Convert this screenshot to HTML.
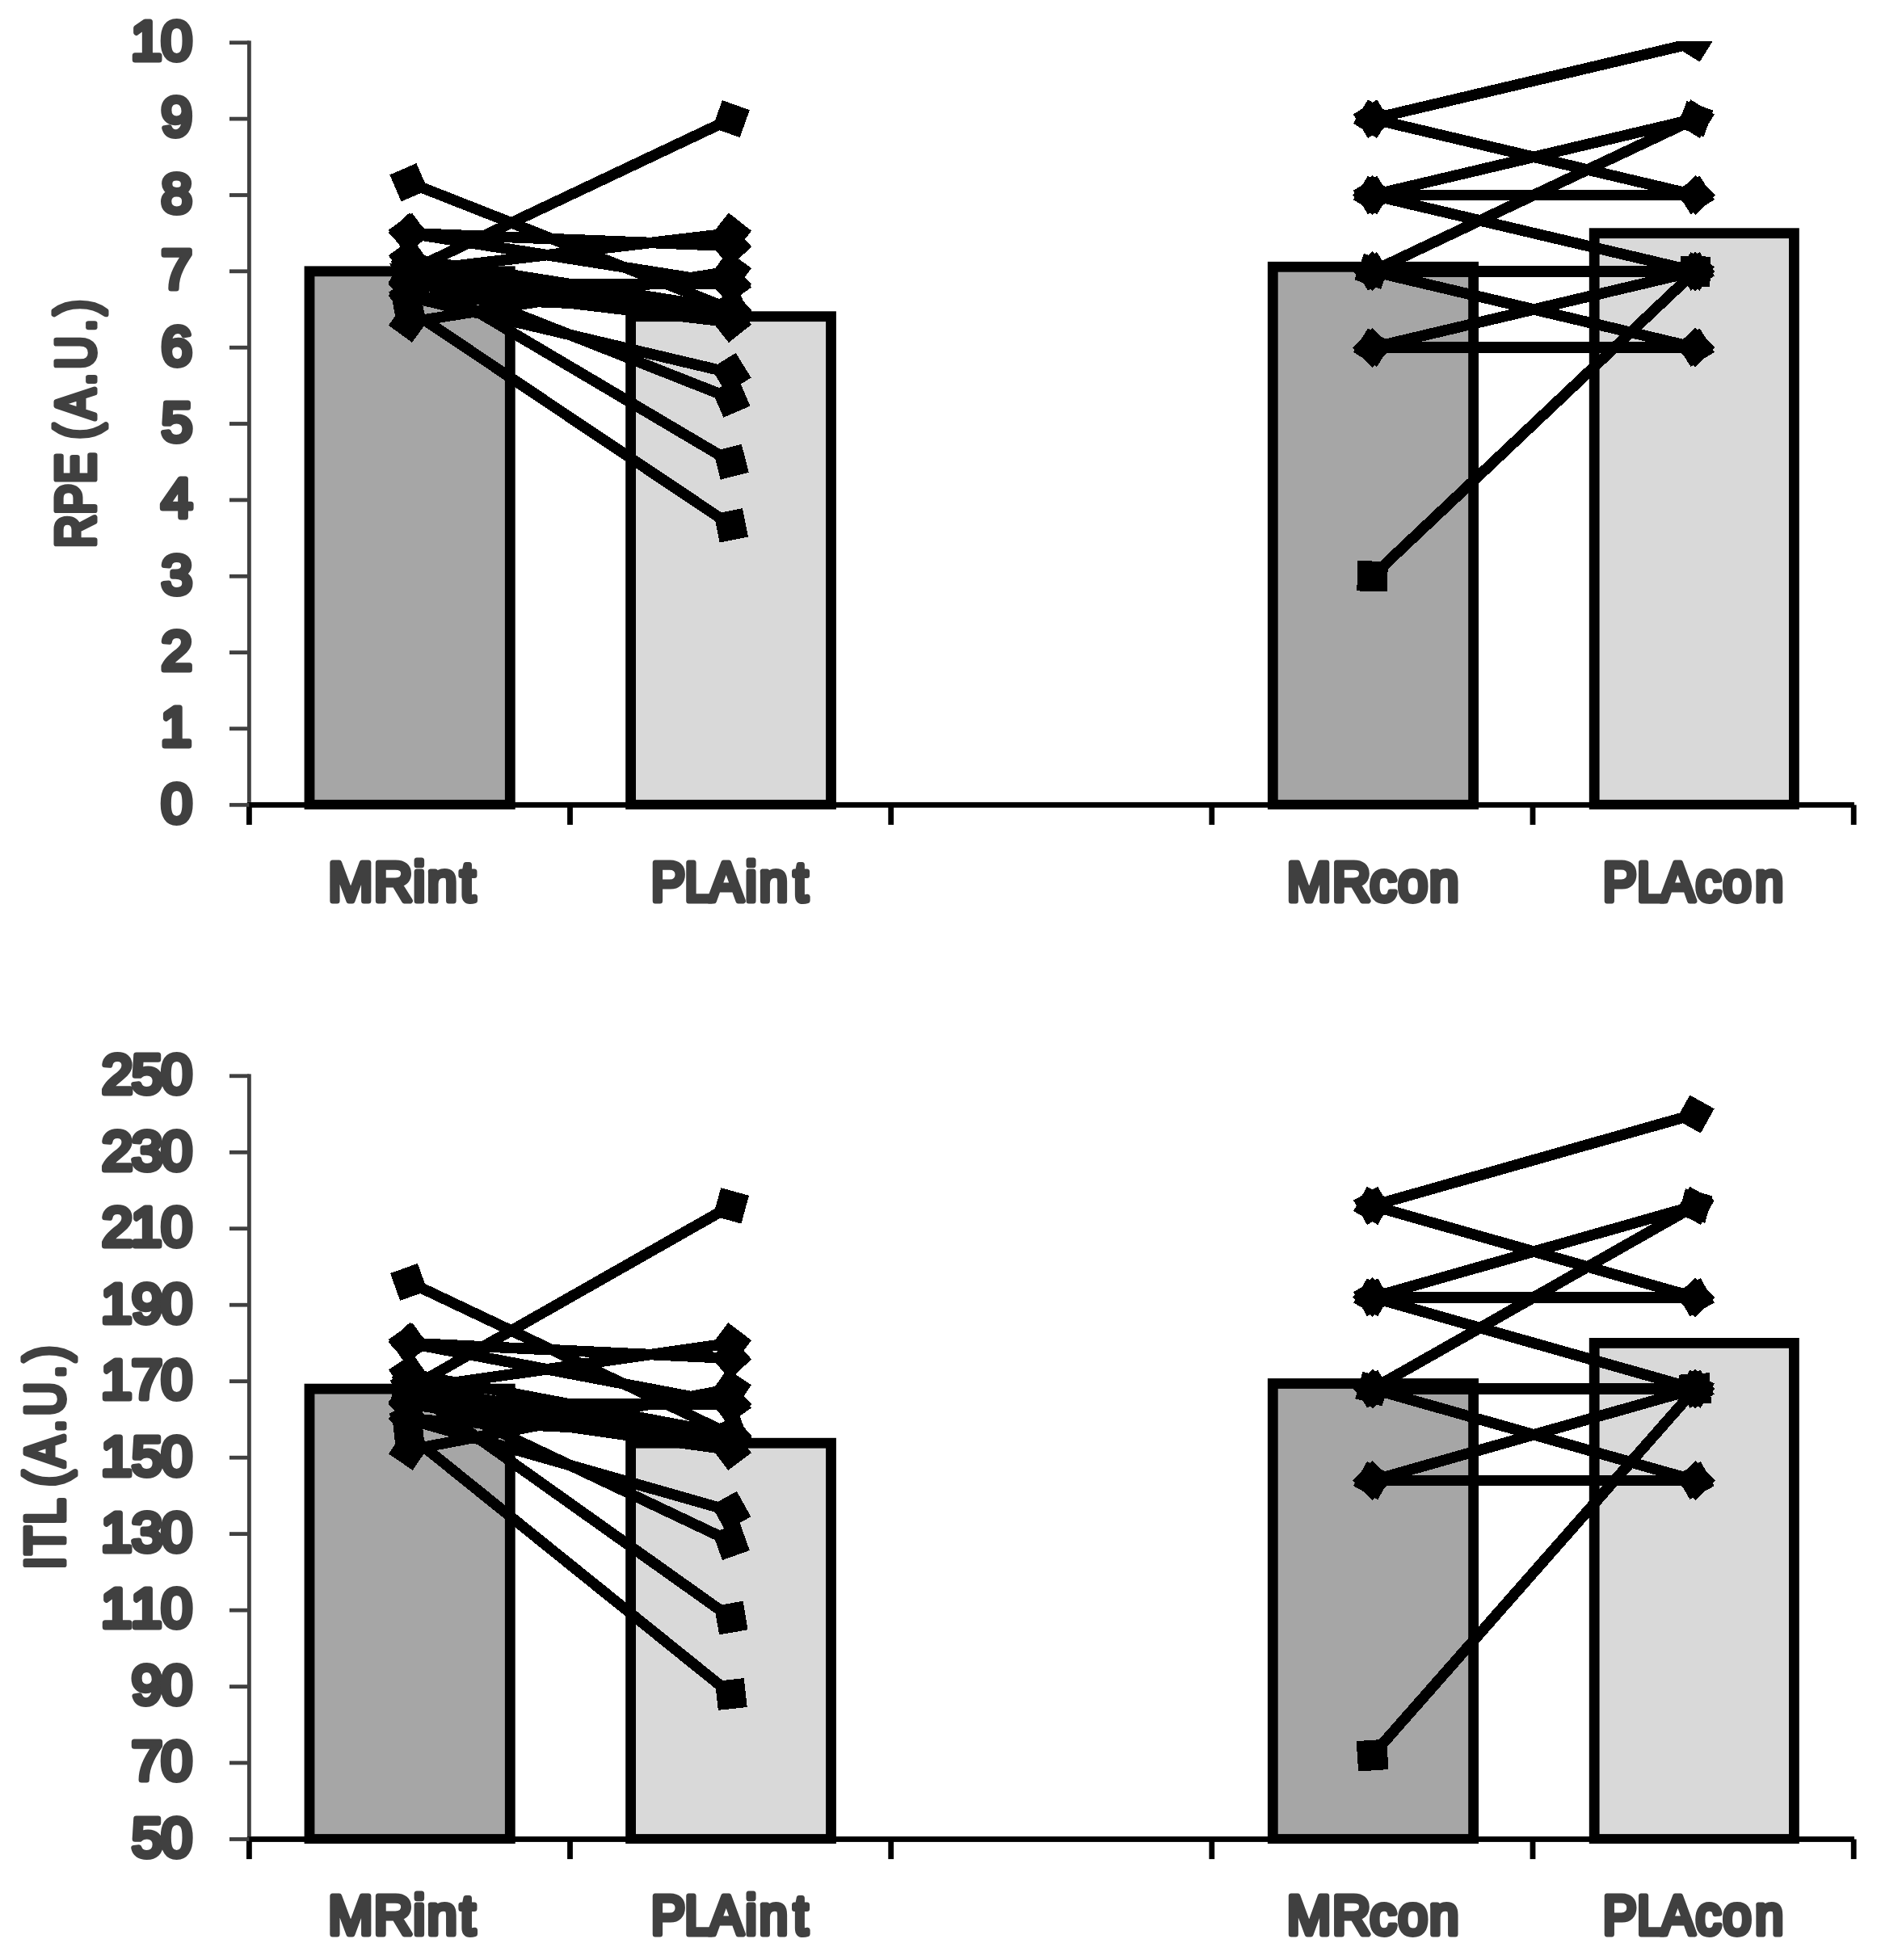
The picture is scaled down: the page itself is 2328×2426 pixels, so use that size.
<!DOCTYPE html>
<html lang="en"><head><meta charset="utf-8"><title>RPE and ITL</title>
<style>html,body{margin:0;padding:0;background:#fff}svg{display:block}</style></head>
<body>
<svg width="2328" height="2426" viewBox="0 0 2328 2426">
<defs><clipPath id="c1"><rect x="0" y="50.9" width="2328" height="1100"/></clipPath></defs>
<rect width="2328" height="2426" fill="#fff"/>
<rect x="376.6" y="329.4" width="261.1" height="672.4" fill="#000"/>
<rect x="389.4" y="342.2" width="235.5" height="647.7" fill="#A6A6A6"/>
<rect x="774.2" y="385.3" width="260.7" height="616.5" fill="#000"/>
<rect x="787.0" y="398.1" width="235.1" height="591.8" fill="#D9D9D9"/>
<rect x="1568.9" y="323.9" width="261.1" height="677.9" fill="#000"/>
<rect x="1581.7" y="336.7" width="235.5" height="653.2" fill="#A6A6A6"/>
<rect x="1966.8" y="282.3" width="260.0" height="719.5" fill="#000"/>
<rect x="1979.6" y="295.1" width="234.4" height="694.8" fill="#D9D9D9"/>
<rect x="305.8" y="992.9" width="1989.1" height="6.8" fill="#000"/>
<rect x="305.0" y="996.3" width="6.8" height="24.6" fill="#000"/>
<rect x="702.1" y="996.3" width="6.8" height="24.6" fill="#000"/>
<rect x="1099.3" y="996.3" width="6.8" height="24.6" fill="#000"/>
<rect x="1496.4" y="996.3" width="6.8" height="24.6" fill="#000"/>
<rect x="1893.6" y="996.3" width="6.8" height="24.6" fill="#000"/>
<rect x="2290.8" y="996.3" width="6.8" height="24.6" fill="#000"/>
<rect x="306.0" y="50.4" width="4.8" height="942.5" fill="#404040"/>
<rect x="284" y="993.9" width="24.4" height="4.8" fill="#404040"/>
<rect x="284" y="899.5" width="24.4" height="4.8" fill="#404040"/>
<rect x="284" y="805.2" width="24.4" height="4.8" fill="#404040"/>
<rect x="284" y="710.9" width="24.4" height="4.8" fill="#404040"/>
<rect x="284" y="616.5" width="24.4" height="4.8" fill="#404040"/>
<rect x="284" y="522.1" width="24.4" height="4.8" fill="#404040"/>
<rect x="284" y="427.8" width="24.4" height="4.8" fill="#404040"/>
<rect x="284" y="333.4" width="24.4" height="4.8" fill="#404040"/>
<rect x="284" y="239.1" width="24.4" height="4.8" fill="#404040"/>
<rect x="284" y="144.7" width="24.4" height="4.8" fill="#404040"/>
<rect x="284" y="50.4" width="24.4" height="4.8" fill="#404040"/>
<g clip-path="url(#c1)" shape-rendering="crispEdges">
<path d="M506.0 225.8L904.8 383.0" stroke="#000" stroke-width="13.5" fill="none"/>
<polygon points="529.7,235.1 496.6,249.5 482.3,216.4 515.4,202.1" fill="#000"/>
<polygon points="928.5,392.4 895.4,406.7 881.1,373.7 914.2,359.3" fill="#000"/>
<path d="M506.0 335.8L904.8 147.1" stroke="#000" stroke-width="13.5" fill="none"/>
<polygon points="529.0,324.9 516.9,358.9 483.0,346.8 495.1,312.8" fill="#000"/>
<polygon points="927.8,136.2 915.7,170.2 881.8,158.1 893.9,124.1" fill="#000"/>
<path d="M506.0 288.7L904.8 304.4" stroke="#000" stroke-width="13.5" fill="none"/>
<polygon points="531.5,289.7 505.0,314.2 480.5,287.7 507.0,263.2" fill="#000"/>
<polygon points="930.3,305.4 903.8,329.9 879.3,303.4 905.8,278.9" fill="#000"/>
<path d="M506.0 335.8L904.8 288.7" stroke="#000" stroke-width="13.5" fill="none"/>
<polygon points="531.3,332.9 509.0,361.2 480.7,338.8 503.0,310.5" fill="#000"/>
<polygon points="930.1,285.7 907.8,314.0 879.5,291.7 901.8,263.4" fill="#000"/>
<path d="M506.0 288.7L904.8 351.6" stroke="#000" stroke-width="13.5" fill="none"/>
<polygon points="531.2,292.6 502.0,313.9 480.8,284.7 510.0,263.5" fill="#000"/>
<polygon points="930.0,355.5 900.8,376.8 879.6,347.6 908.8,326.4" fill="#000"/>
<path d="M506.0 351.6L904.8 351.6" stroke="#000" stroke-width="13.5" fill="none"/>
<polygon points="531.5,351.6 506.0,377.1 480.5,351.6 506.0,326.1" fill="#000"/>
<polygon points="930.3,351.6 904.8,377.1 879.3,351.6 904.8,326.1" fill="#000"/>
<path d="M506.0 320.1L904.8 383.0" stroke="#000" stroke-width="13.5" fill="none"/>
<polygon points="531.2,324.1 502.0,345.3 480.8,316.2 510.0,294.9" fill="#000"/>
<polygon points="930.0,387.0 900.8,408.2 879.6,379.1 908.8,357.8" fill="#000"/>
<path d="M506.0 398.8L904.8 335.8" stroke="#000" stroke-width="13.5" fill="none"/>
<polygon points="531.2,394.8 510.0,423.9 480.8,402.7 502.0,373.6" fill="#000"/>
<polygon points="930.0,331.9 908.8,361.0 879.6,339.8 900.8,310.7" fill="#000"/>
<path d="M506.0 351.6L904.8 398.8" stroke="#000" stroke-width="13.5" fill="none"/>
<polygon points="531.3,354.6 503.0,376.9 480.7,348.6 509.0,326.3" fill="#000"/>
<polygon points="930.1,401.7 901.8,424.1 879.5,395.8 907.8,373.4" fill="#000"/>
<path d="M506.0 367.3L904.8 461.6" stroke="#000" stroke-width="13.5" fill="none"/>
<polygon points="530.8,373.2 500.1,392.1 481.2,361.4 511.9,342.5" fill="#000"/>
<polygon points="929.6,467.5 898.9,486.5 880.0,455.8 910.7,436.8" fill="#000"/>
<path d="M506.0 335.8L904.8 493.1" stroke="#000" stroke-width="13.5" fill="none"/>
<polygon points="529.7,345.2 496.6,359.6 482.3,326.5 515.4,312.1" fill="#000"/>
<polygon points="928.5,502.5 895.4,516.8 881.1,483.7 914.2,469.4" fill="#000"/>
<path d="M506.0 335.8L904.8 571.7" stroke="#000" stroke-width="13.5" fill="none"/>
<polygon points="527.9,348.8 493.0,357.8 484.1,322.9 519.0,313.9" fill="#000"/>
<polygon points="926.7,584.7 891.8,593.7 882.9,558.7 917.8,549.8" fill="#000"/>
<path d="M506.0 383.0L904.8 650.3" stroke="#000" stroke-width="13.5" fill="none"/>
<polygon points="527.2,397.2 491.8,404.2 484.8,368.8 520.2,361.8" fill="#000"/>
<polygon points="926.0,664.5 890.6,671.5 883.6,636.2 919.0,629.2" fill="#000"/>
<path d="M506.0 367.3L904.8 383.0" stroke="#000" stroke-width="13.5" fill="none"/>
<polygon points="531.5,368.3 505.0,392.8 480.5,366.3 507.0,341.8" fill="#000"/>
<polygon points="930.3,384.0 903.8,408.5 879.3,382.0 905.8,357.5" fill="#000"/>
<path d="M506.0 335.8L904.8 383.0" stroke="#000" stroke-width="13.5" fill="none"/>
<polygon points="531.3,338.8 503.0,361.2 480.7,332.9 509.0,310.5" fill="#000"/>
<polygon points="930.1,386.0 901.8,408.3 879.5,380.0 907.8,357.7" fill="#000"/>
<path d="M506.0 351.6L904.8 383.0" stroke="#000" stroke-width="13.5" fill="none"/>
<polygon points="531.4,353.6 504.0,377.0 480.6,349.6 508.0,326.2" fill="#000"/>
<polygon points="930.2,385.0 902.8,408.4 879.4,381.0 906.8,357.6" fill="#000"/>
<path d="M1698.6 147.1L2098.1 52.8" stroke="#000" stroke-width="13.5" fill="none"/>
<polygon points="1722.4,141.5 1704.2,171.0 1674.8,152.8 1693.0,123.3" fill="#000"/>
<polygon points="2121.9,47.2 2103.7,76.6 2074.3,58.4 2092.5,29.0" fill="#000"/>
<path d="M1698.6 147.1L2098.1 241.5" stroke="#000" stroke-width="13.5" fill="none"/>
<polygon points="1722.4,152.8 1693.0,171.0 1674.8,141.5 1704.2,123.3" fill="#000"/>
<polygon points="2121.9,247.1 2092.5,265.3 2074.3,235.9 2103.7,217.7" fill="#000"/>
<path d="M1698.6 241.5L2098.1 147.1" stroke="#000" stroke-width="13.5" fill="none"/>
<polygon points="1722.4,235.9 1704.2,265.3 1674.8,247.1 1693.0,217.7" fill="#000"/>
<polygon points="2121.9,141.5 2103.7,171.0 2074.3,152.8 2092.5,123.3" fill="#000"/>
<path d="M1698.6 241.5L2098.1 241.5" stroke="#000" stroke-width="13.5" fill="none"/>
<polygon points="1723.1,241.5 1698.6,266.0 1674.1,241.5 1698.6,217.0" fill="#000"/>
<polygon points="2122.6,241.5 2098.1,266.0 2073.6,241.5 2098.1,217.0" fill="#000"/>
<path d="M1698.6 241.5L2098.1 335.8" stroke="#000" stroke-width="13.5" fill="none"/>
<polygon points="1722.4,247.1 1693.0,265.3 1674.8,235.9 1704.2,217.7" fill="#000"/>
<polygon points="2121.9,341.5 2092.5,359.7 2074.3,330.2 2103.7,312.0" fill="#000"/>
<path d="M1698.6 335.8L2098.1 147.1" stroke="#000" stroke-width="13.5" fill="none"/>
<polygon points="1720.8,325.4 1709.1,358.0 1676.4,346.3 1688.1,313.7" fill="#000"/>
<polygon points="2120.3,136.7 2108.6,169.3 2075.9,157.6 2087.6,125.0" fill="#000"/>
<path d="M1698.6 335.8L2098.1 335.8" stroke="#000" stroke-width="13.5" fill="none"/>
<polygon points="1723.1,335.8 1698.6,360.3 1674.1,335.8 1698.6,311.3" fill="#000"/>
<polygon points="2122.6,335.8 2098.1,360.3 2073.6,335.8 2098.1,311.3" fill="#000"/>
<path d="M1698.6 335.8L2098.1 430.2" stroke="#000" stroke-width="13.5" fill="none"/>
<polygon points="1722.4,341.5 1693.0,359.7 1674.8,330.2 1704.2,312.0" fill="#000"/>
<polygon points="2121.9,435.8 2092.5,454.0 2074.3,424.6 2103.7,406.4" fill="#000"/>
<path d="M1698.6 430.2L2098.1 335.8" stroke="#000" stroke-width="13.5" fill="none"/>
<polygon points="1722.4,424.6 1704.2,454.0 1674.8,435.8 1693.0,406.4" fill="#000"/>
<polygon points="2121.9,330.2 2103.7,359.7 2074.3,341.5 2092.5,312.0" fill="#000"/>
<path d="M1698.6 430.2L2098.1 430.2" stroke="#000" stroke-width="13.5" fill="none"/>
<polygon points="1723.1,430.2 1698.6,454.7 1674.1,430.2 1698.6,405.7" fill="#000"/>
<polygon points="2122.6,430.2 2098.1,454.7 2073.6,430.2 2098.1,405.7" fill="#000"/>
<path d="M1698.6 713.2L2098.1 335.8" stroke="#000" stroke-width="13.5" fill="none"/>
<polygon points="1717.9,695.1 1716.8,732.5 1679.3,731.4 1680.4,694.0" fill="#000"/>
<polygon points="2117.4,317.7 2116.3,355.1 2078.8,354.0 2079.9,316.6" fill="#000"/>
</g>
<rect x="376.6" y="1712.7" width="261.1" height="569.3" fill="#000"/>
<rect x="389.4" y="1725.5" width="235.5" height="544.6" fill="#A6A6A6"/>
<rect x="774.2" y="1779.8" width="260.7" height="502.2" fill="#000"/>
<rect x="787.0" y="1792.6" width="235.1" height="477.5" fill="#D9D9D9"/>
<rect x="1568.9" y="1706.1" width="261.1" height="575.9" fill="#000"/>
<rect x="1581.7" y="1718.9" width="235.5" height="551.2" fill="#A6A6A6"/>
<rect x="1966.8" y="1656.0" width="260.0" height="626.0" fill="#000"/>
<rect x="1979.6" y="1668.8" width="234.4" height="601.3" fill="#D9D9D9"/>
<rect x="305.8" y="2273.1" width="1989.1" height="6.8" fill="#000"/>
<rect x="305.0" y="2276.5" width="6.8" height="24.6" fill="#000"/>
<rect x="702.1" y="2276.5" width="6.8" height="24.6" fill="#000"/>
<rect x="1099.3" y="2276.5" width="6.8" height="24.6" fill="#000"/>
<rect x="1496.4" y="2276.5" width="6.8" height="24.6" fill="#000"/>
<rect x="1893.6" y="2276.5" width="6.8" height="24.6" fill="#000"/>
<rect x="2290.8" y="2276.5" width="6.8" height="24.6" fill="#000"/>
<rect x="306.0" y="1329.4" width="4.8" height="943.7" fill="#404040"/>
<rect x="284" y="2274.1" width="24.4" height="4.8" fill="#404040"/>
<rect x="284" y="2179.6" width="24.4" height="4.8" fill="#404040"/>
<rect x="284" y="2085.2" width="24.4" height="4.8" fill="#404040"/>
<rect x="284" y="1990.7" width="24.4" height="4.8" fill="#404040"/>
<rect x="284" y="1896.2" width="24.4" height="4.8" fill="#404040"/>
<rect x="284" y="1801.8" width="24.4" height="4.8" fill="#404040"/>
<rect x="284" y="1707.3" width="24.4" height="4.8" fill="#404040"/>
<rect x="284" y="1612.8" width="24.4" height="4.8" fill="#404040"/>
<rect x="284" y="1518.3" width="24.4" height="4.8" fill="#404040"/>
<rect x="284" y="1423.9" width="24.4" height="4.8" fill="#404040"/>
<rect x="284" y="1329.4" width="24.4" height="4.8" fill="#404040"/>
<g shape-rendering="crispEdges">
<path d="M506.0 1586.9L904.8 1775.8" stroke="#000" stroke-width="13.5" fill="none"/>
<polygon points="529.0,1597.8 495.1,1609.9 483.0,1576.0 516.9,1563.8" fill="#000"/>
<polygon points="927.8,1786.7 893.9,1798.9 881.8,1764.9 915.7,1752.8" fill="#000"/>
<path d="M506.0 1719.1L904.8 1492.4" stroke="#000" stroke-width="13.5" fill="none"/>
<polygon points="528.2,1706.5 518.6,1741.3 483.8,1731.7 493.4,1697.0" fill="#000"/>
<polygon points="927.0,1479.8 917.4,1514.6 882.6,1505.0 892.2,1470.2" fill="#000"/>
<path d="M506.0 1662.4L904.8 1681.3" stroke="#000" stroke-width="13.5" fill="none"/>
<polygon points="531.5,1663.7 504.8,1687.9 480.5,1661.2 507.2,1637.0" fill="#000"/>
<polygon points="930.3,1682.5 903.6,1706.8 879.3,1680.1 906.0,1655.9" fill="#000"/>
<path d="M506.0 1719.1L904.8 1662.4" stroke="#000" stroke-width="13.5" fill="none"/>
<polygon points="531.2,1715.5 509.6,1744.4 480.8,1722.7 502.4,1693.9" fill="#000"/>
<polygon points="930.0,1658.9 908.4,1687.7 879.6,1666.0 901.2,1637.2" fill="#000"/>
<path d="M506.0 1662.4L904.8 1738.0" stroke="#000" stroke-width="13.5" fill="none"/>
<polygon points="531.1,1667.2 501.3,1687.5 480.9,1657.7 510.7,1637.4" fill="#000"/>
<polygon points="929.9,1742.8 900.1,1763.1 879.7,1733.3 909.5,1713.0" fill="#000"/>
<path d="M506.0 1738.0L904.8 1738.0" stroke="#000" stroke-width="13.5" fill="none"/>
<polygon points="531.5,1738.0 506.0,1763.5 480.5,1738.0 506.0,1712.5" fill="#000"/>
<polygon points="930.3,1738.0 904.8,1763.5 879.3,1738.0 904.8,1712.5" fill="#000"/>
<path d="M506.0 1700.2L904.8 1775.8" stroke="#000" stroke-width="13.5" fill="none"/>
<polygon points="531.1,1705.0 501.3,1725.3 480.9,1695.5 510.7,1675.2" fill="#000"/>
<polygon points="929.9,1780.6 900.1,1800.9 879.7,1771.1 909.5,1750.8" fill="#000"/>
<path d="M506.0 1794.7L904.8 1719.1" stroke="#000" stroke-width="13.5" fill="none"/>
<polygon points="531.1,1790.0 510.7,1819.8 480.9,1799.5 501.3,1769.6" fill="#000"/>
<polygon points="929.9,1714.4 909.5,1744.2 879.7,1723.9 900.1,1694.1" fill="#000"/>
<path d="M506.0 1738.0L904.8 1794.7" stroke="#000" stroke-width="13.5" fill="none"/>
<polygon points="531.2,1741.6 502.4,1763.3 480.8,1734.4 509.6,1712.8" fill="#000"/>
<polygon points="930.0,1798.3 901.2,1819.9 879.6,1791.1 908.4,1769.5" fill="#000"/>
<path d="M506.0 1756.9L904.8 1870.3" stroke="#000" stroke-width="13.5" fill="none"/>
<polygon points="530.5,1763.9 499.0,1781.4 481.5,1749.9 513.0,1732.4" fill="#000"/>
<polygon points="929.3,1877.3 897.8,1894.8 880.3,1863.3 911.8,1845.8" fill="#000"/>
<path d="M506.0 1719.1L904.8 1908.1" stroke="#000" stroke-width="13.5" fill="none"/>
<polygon points="529.0,1730.0 495.1,1742.2 483.0,1708.2 516.9,1696.1" fill="#000"/>
<polygon points="927.8,1919.0 893.9,1931.1 881.8,1897.1 915.7,1885.0" fill="#000"/>
<path d="M506.0 1719.1L904.8 2002.5" stroke="#000" stroke-width="13.5" fill="none"/>
<polygon points="526.8,1733.9 491.2,1739.9 485.2,1704.4 520.8,1698.3" fill="#000"/>
<polygon points="925.6,2017.3 890.0,2023.3 884.0,1987.8 919.6,1981.8" fill="#000"/>
<path d="M506.0 1775.8L904.8 2097.0" stroke="#000" stroke-width="13.5" fill="none"/>
<polygon points="525.9,1791.8 490.0,1795.7 486.1,1759.8 522.0,1755.9" fill="#000"/>
<polygon points="924.7,2113.0 888.8,2116.9 884.9,2081.0 920.8,2077.1" fill="#000"/>
<path d="M506.0 1756.9L904.8 1775.8" stroke="#000" stroke-width="13.5" fill="none"/>
<polygon points="531.5,1758.1 504.8,1782.4 480.5,1755.7 507.2,1731.4" fill="#000"/>
<polygon points="930.3,1777.0 903.6,1801.3 879.3,1774.6 906.0,1750.3" fill="#000"/>
<path d="M506.0 1719.1L904.8 1775.8" stroke="#000" stroke-width="13.5" fill="none"/>
<polygon points="531.2,1722.7 502.4,1744.4 480.8,1715.5 509.6,1693.9" fill="#000"/>
<polygon points="930.0,1779.4 901.2,1801.1 879.6,1772.2 908.4,1750.6" fill="#000"/>
<path d="M506.0 1738.0L904.8 1775.8" stroke="#000" stroke-width="13.5" fill="none"/>
<polygon points="531.4,1740.4 503.6,1763.4 480.6,1735.6 508.4,1712.6" fill="#000"/>
<polygon points="930.2,1778.2 902.4,1801.2 879.4,1773.4 907.2,1750.4" fill="#000"/>
<path d="M1698.6 1492.4L2098.1 1379.0" stroke="#000" stroke-width="13.5" fill="none"/>
<polygon points="1722.2,1485.7 1705.3,1516.0 1675.0,1499.1 1691.9,1468.8" fill="#000"/>
<polygon points="2121.7,1372.3 2104.8,1402.6 2074.5,1385.7 2091.4,1355.5" fill="#000"/>
<path d="M1698.6 1492.4L2098.1 1605.8" stroke="#000" stroke-width="13.5" fill="none"/>
<polygon points="1722.2,1499.1 1691.9,1516.0 1675.0,1485.7 1705.3,1468.8" fill="#000"/>
<polygon points="2121.7,1612.5 2091.4,1629.3 2074.5,1599.1 2104.8,1582.2" fill="#000"/>
<path d="M1698.6 1605.8L2098.1 1492.4" stroke="#000" stroke-width="13.5" fill="none"/>
<polygon points="1722.2,1599.1 1705.3,1629.3 1675.0,1612.5 1691.9,1582.2" fill="#000"/>
<polygon points="2121.7,1485.7 2104.8,1516.0 2074.5,1499.1 2091.4,1468.8" fill="#000"/>
<path d="M1698.6 1605.8L2098.1 1605.8" stroke="#000" stroke-width="13.5" fill="none"/>
<polygon points="1723.1,1605.8 1698.6,1630.3 1674.1,1605.8 1698.6,1581.3" fill="#000"/>
<polygon points="2122.6,1605.8 2098.1,1630.3 2073.6,1605.8 2098.1,1581.3" fill="#000"/>
<path d="M1698.6 1605.8L2098.1 1719.1" stroke="#000" stroke-width="13.5" fill="none"/>
<polygon points="1722.2,1612.5 1691.9,1629.3 1675.0,1599.1 1705.3,1582.2" fill="#000"/>
<polygon points="2121.7,1725.8 2091.4,1742.7 2074.5,1712.4 2104.8,1695.6" fill="#000"/>
<path d="M1698.6 1719.1L2098.1 1492.4" stroke="#000" stroke-width="13.5" fill="none"/>
<polygon points="1719.9,1707.0 1710.7,1740.4 1677.3,1731.2 1686.5,1697.8" fill="#000"/>
<polygon points="2119.4,1480.3 2110.2,1513.7 2076.8,1504.5 2086.0,1471.1" fill="#000"/>
<path d="M1698.6 1719.1L2098.1 1719.1" stroke="#000" stroke-width="13.5" fill="none"/>
<polygon points="1723.1,1719.1 1698.6,1743.6 1674.1,1719.1 1698.6,1694.6" fill="#000"/>
<polygon points="2122.6,1719.1 2098.1,1743.6 2073.6,1719.1 2098.1,1694.6" fill="#000"/>
<path d="M1698.6 1719.1L2098.1 1832.5" stroke="#000" stroke-width="13.5" fill="none"/>
<polygon points="1722.2,1725.8 1691.9,1742.7 1675.0,1712.4 1705.3,1695.6" fill="#000"/>
<polygon points="2121.7,1839.2 2091.4,1856.1 2074.5,1825.8 2104.8,1808.9" fill="#000"/>
<path d="M1698.6 1832.5L2098.1 1719.1" stroke="#000" stroke-width="13.5" fill="none"/>
<polygon points="1722.2,1825.8 1705.3,1856.1 1675.0,1839.2 1691.9,1808.9" fill="#000"/>
<polygon points="2121.7,1712.4 2104.8,1742.7 2074.5,1725.8 2091.4,1695.6" fill="#000"/>
<path d="M1698.6 1832.5L2098.1 1832.5" stroke="#000" stroke-width="13.5" fill="none"/>
<polygon points="1723.1,1832.5 1698.6,1857.0 1674.1,1832.5 1698.6,1808.0" fill="#000"/>
<polygon points="2122.6,1832.5 2098.1,1857.0 2073.6,1832.5 2098.1,1808.0" fill="#000"/>
<path d="M1698.6 2172.6L2098.1 1719.1" stroke="#000" stroke-width="13.5" fill="none"/>
<polygon points="1716.1,2152.7 1718.5,2190.1 1681.1,2192.5 1678.7,2155.1" fill="#000"/>
<polygon points="2115.6,1699.2 2118.0,1736.6 2080.6,1739.0 2078.2,1701.6" fill="#000"/>
</g>
<g font-family="'Liberation Sans', Arial, sans-serif" font-weight="normal" font-size="69" fill="#404040" stroke="#404040" stroke-width="7" stroke-linejoin="round" stroke-linecap="round">
<text transform="translate(199.6 1017.6)" x="0.0">0</text>
<text transform="translate(198.7 923.2)" x="0.0">1</text>
<text transform="translate(199.6 828.9)" x="0.0">2</text>
<text transform="translate(199.8 734.5)" x="0.0">3</text>
<text transform="translate(199.8 640.2)" x="0.0">4</text>
<text transform="translate(199.7 545.8)" x="0.0">5</text>
<text transform="translate(199.4 451.5)" x="0.0">6</text>
<text transform="translate(199.6 357.1)" x="0.0">7</text>
<text transform="translate(199.6 262.8)" x="0.0">8</text>
<text transform="translate(199.6 168.4)" x="0.0">9</text>
<text transform="translate(161.9 74.1)" x="0.0 37.7">10</text>
<text transform="translate(162.9 2297.8)" x="0.0 36.7">50</text>
<text transform="translate(162.8 2203.3)" x="0.0 36.8">70</text>
<text transform="translate(162.8 2108.9)" x="0.0 36.8">90</text>
<text transform="translate(125.1 2014.4)" x="0.0 36.8 74.5">110</text>
<text transform="translate(125.1 1919.9)" x="0.0 37.9 74.5">130</text>
<text transform="translate(125.1 1825.5)" x="0.0 37.8 74.5">150</text>
<text transform="translate(125.1 1731.0)" x="0.0 37.7 74.5">170</text>
<text transform="translate(125.1 1636.5)" x="0.0 37.8 74.5">190</text>
<text transform="translate(126.0 1542.0)" x="0.0 35.9 73.6">210</text>
<text transform="translate(126.0 1447.6)" x="0.0 37.0 73.6">230</text>
<text transform="translate(126.0 1353.1)" x="0.0 36.9 73.6">250</text>
<text transform="translate(407.9 1114.9) scale(0.960 1)" x="-1.6 57.2 108.0 125.8 168.5">MRint</text>
<text transform="translate(809.0 1114.9) scale(0.920 1)" x="-3.4 41.6 74.5 123.4 142.1 188.2">PLAint</text>
<text transform="translate(1593.9 1114.9) scale(0.950 1)" x="-1.3 57.9 106.9 143.9 184.3">MRcon</text>
<text transform="translate(1987.0 1114.9) scale(0.910 1)" x="-3.6 42.8 75.3 122.7 160.0 203.5">PLAcon</text>
<text transform="translate(407.9 2394.2) scale(0.960 1)" x="-1.6 57.2 108.0 125.8 168.5">MRint</text>
<text transform="translate(809.0 2394.2) scale(0.920 1)" x="-3.4 41.6 74.5 123.4 142.1 188.2">PLAint</text>
<text transform="translate(1593.9 2394.2) scale(0.950 1)" x="-1.3 57.9 106.9 143.9 184.3">MRcon</text>
<text transform="translate(1987.0 2394.2) scale(0.910 1)" x="-3.6 42.8 75.3 122.7 160.0 203.5">PLAcon</text>
<text transform="translate(117.3 675.4) rotate(-90) scale(0.815 1)" x="-3.1 47.4 94.6 140.6 161.8 192.2 243.1 268.4 325.1 350.4">RPE (A.U.)</text>
<text transform="translate(79.3 1940.7) rotate(-90) scale(0.830 1)" x="-2.1 19.8 65.0 103.4 121.6 150.9 202.4 227.2 283.2 308.0">ITL (A.U.)</text>
</g>
</svg>
</body></html>
